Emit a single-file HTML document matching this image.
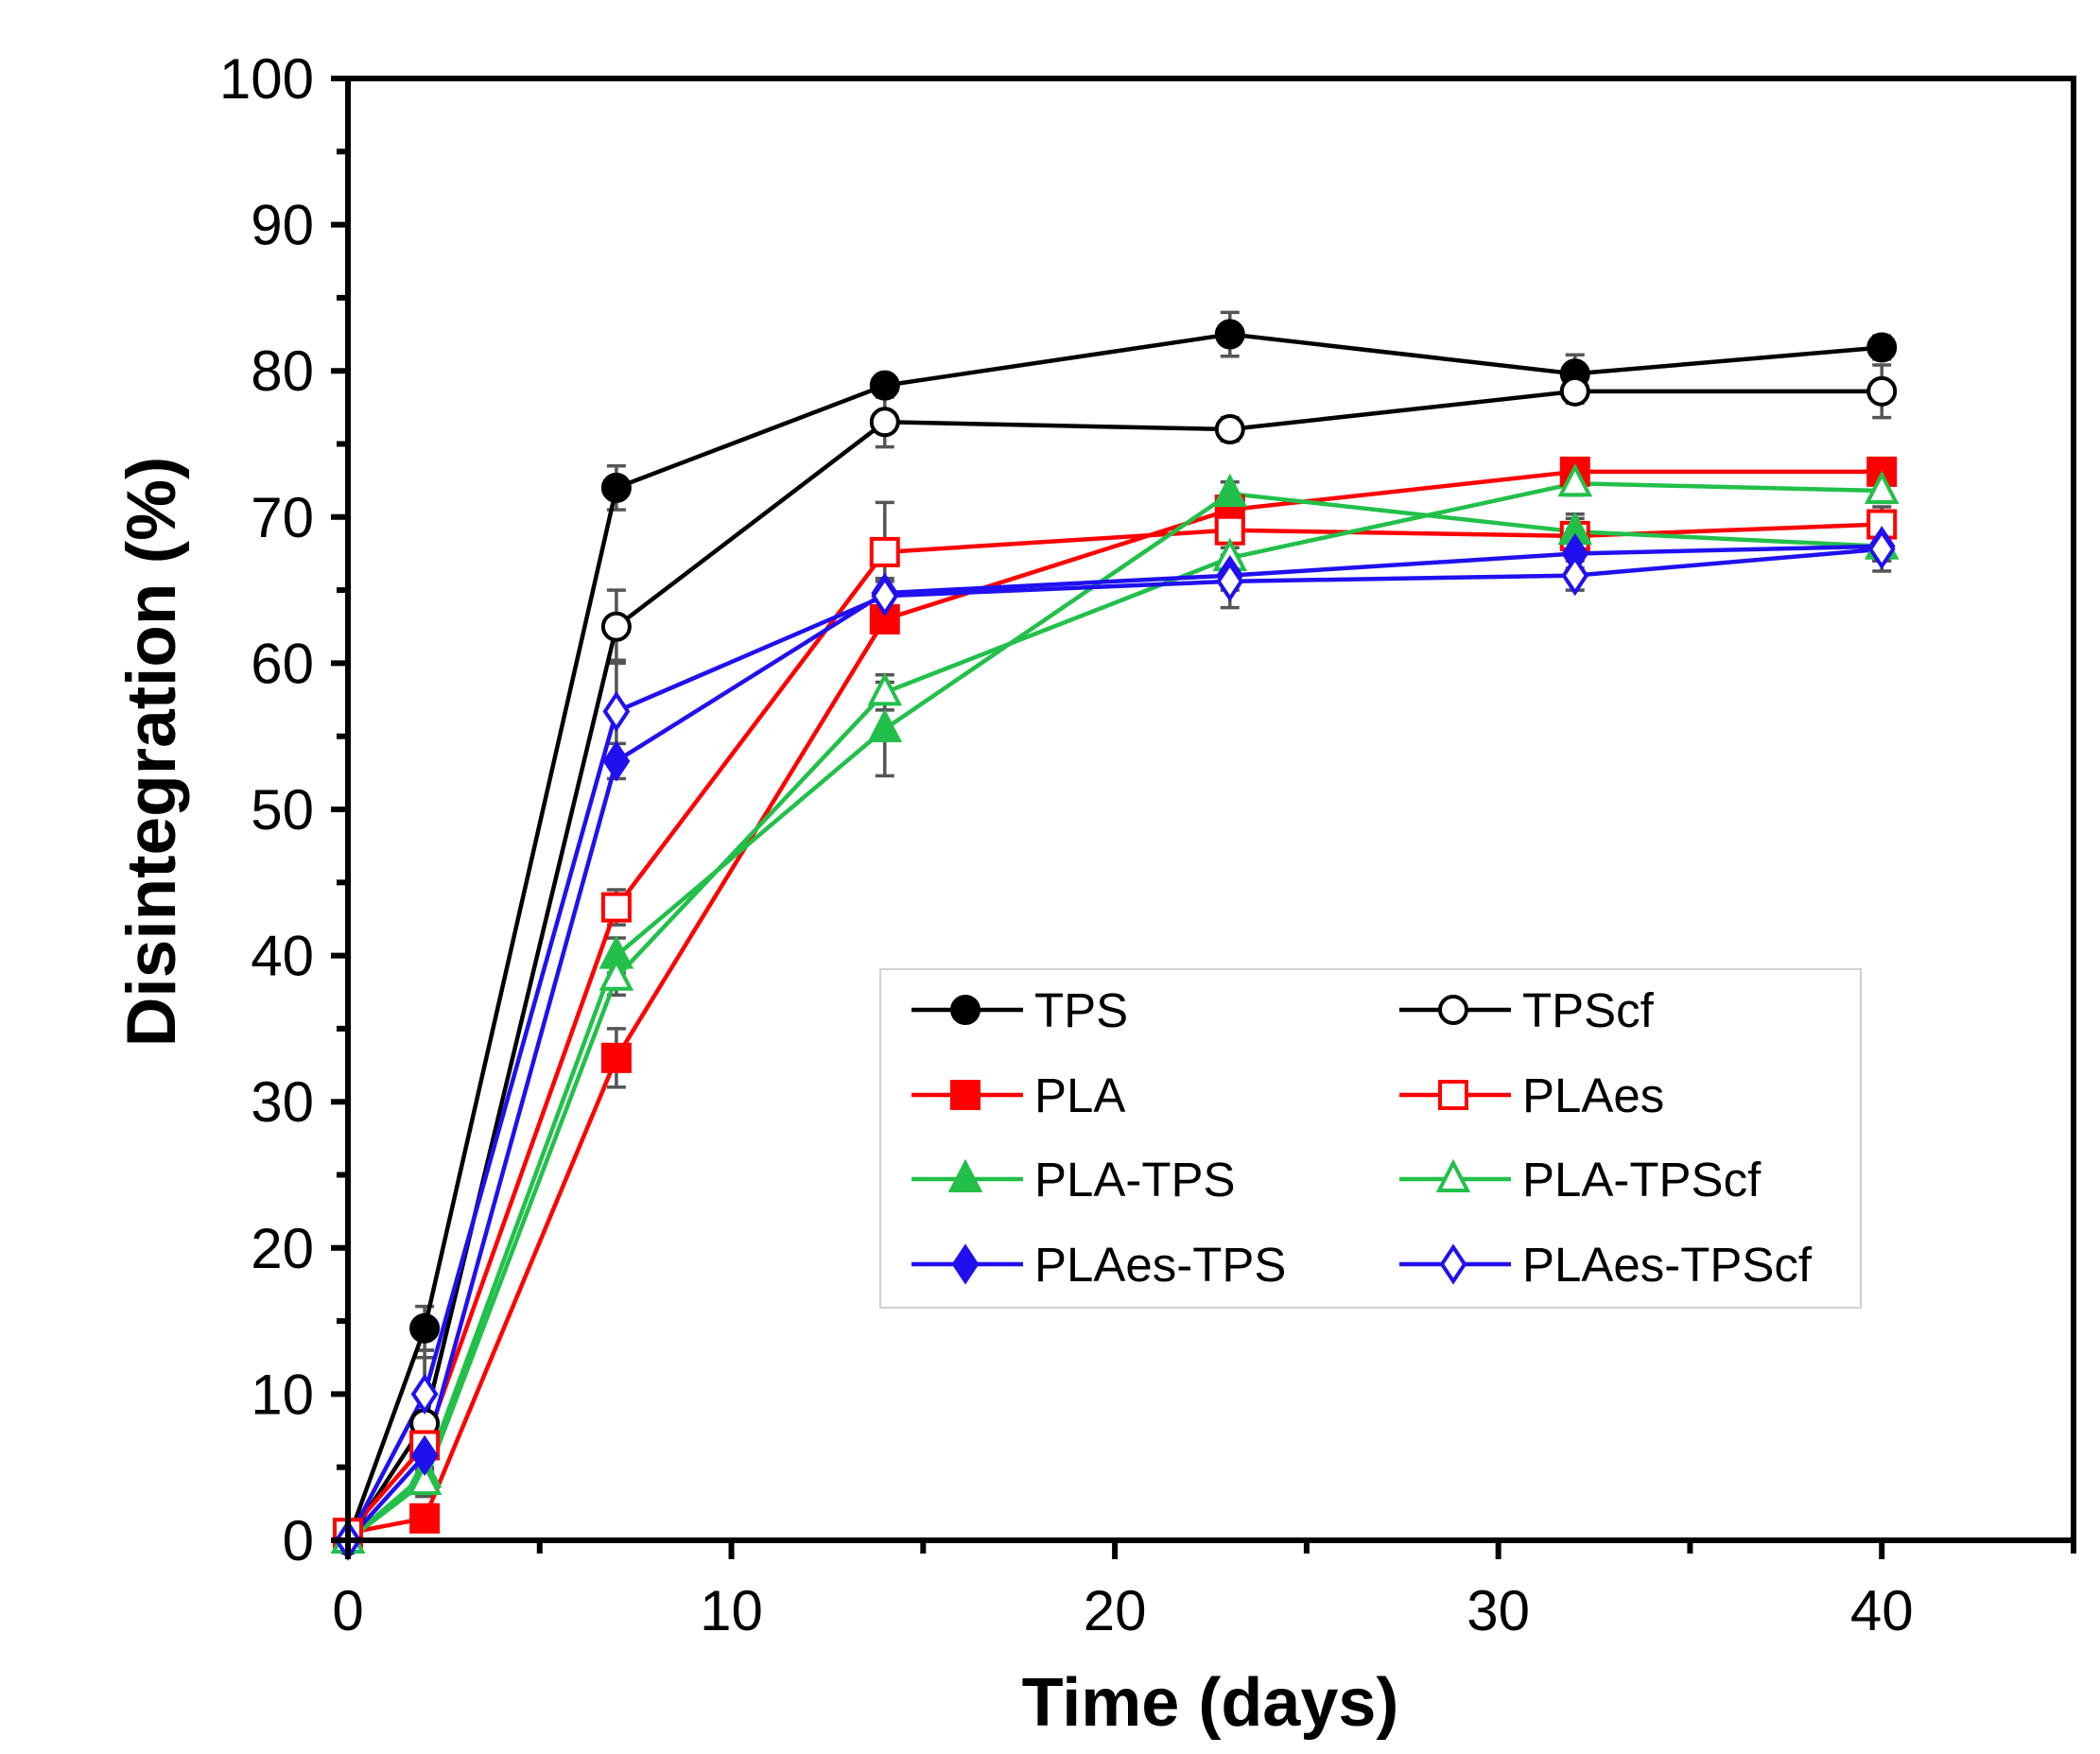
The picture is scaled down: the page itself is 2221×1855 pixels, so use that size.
<!DOCTYPE html>
<html><head><meta charset="utf-8"><style>
html,body{margin:0;padding:0;background:#fff;}
svg{display:block;font-family:"Liberation Sans",Arial,sans-serif;}
</style></head><body>
<svg id="chart" width="2221" height="1855" viewBox="0 0 2221 1855" xmlns="http://www.w3.org/2000/svg">
<g id="err-layer"></g>
<g id="series-layer"></g>
<g id="axis-layer"></g>
<g id="legend-layer"></g>
</svg>
<script>
const days = [0, 2, 7, 14, 23, 32, 40];
const tpsVals = [0, 14.5, 72, 79, 82.5, 79.8, 81.6];
const tpsErr = [0, 1.5, 1.5, 0.6, 1.5, 1.3, 0.8];
const tpscfVals = [0, 8, 62.5, 76.5, 76, 78.6, 78.6];
const tpscfErr = [0, 4.5, 2.5, 1.7, 0.8, 0.8, 1.8];
const plaVals = [0.5, 1.5, 33, 63, 70.5, 73.1, 73.1];
const plaErr = [0, 0.5, 2, 0.5, 0.8, 0.5, 0.5];
const plaesVals = [0.5, 6.5, 43.3, 67.6, 69.1, 68.7, 69.5];
const plaesErr = [0, 1, 1.2, 3.4, 1.2, 1.2, 1.2];
const platpsVals = [0, 4.5, 40, 55.5, 71.6, 69, 68];
const platpsErr = [0, 1, 1.2, 3.2, 0.8, 1.2, 1];
const platpscfVals = [0, 4, 38.5, 58, 67.2, 72.3, 71.8];
const platpscfErr = [0, 1, 1.2, 1.2, 1, 0.8, 0.8];
const plaestpsVals = [0, 5.8, 53.3, 64.8, 66, 67.5, 68];
const plaestpsErr = [0, 1, 1.2, 1, 1, 1, 1];
const plaestpscfVals = [0, 10, 56.7, 64.6, 65.6, 66, 67.8];
const plaestpscfErr = [0, 3, 3.5, 1, 1.8, 1, 1.5];
const xTicks = [0, 10, 20, 30, 40];
const yTicks = [0, 10, 20, 30, 40, 50, 60, 70, 80, 90, 100];

const NS = "http://www.w3.org/2000/svg";
const X0 = 368, X1 = 2193, Y0 = 1629, Y1 = 83;
const xs = d => X0 + (d / 45) * (X1 - X0);
const ys = v => Y0 - (v / 100) * (Y0 - Y1);
function mk(tag, attrs, parent) { const e = document.createElementNS(NS, tag); for (const k in attrs) e.setAttribute(k, attrs[k]); parent.appendChild(e); return e; }

const series = [
  {name:"TPS", vals:tpsVals, err:tpsErr, color:"#000", shape:"circle", fill:true},
  {name:"TPScf", vals:tpscfVals, err:tpscfErr, color:"#000", shape:"circle", fill:false},
  {name:"PLA", vals:plaVals, err:plaErr, color:"#ff0000", shape:"square", fill:true},
  {name:"PLAes", vals:plaesVals, err:plaesErr, color:"#ff0000", shape:"square", fill:false},
  {name:"PLA-TPS", vals:platpsVals, err:platpsErr, color:"#22c04a", shape:"triangle", fill:true},
  {name:"PLA-TPScf", vals:platpscfVals, err:platpscfErr, color:"#22c04a", shape:"triangle", fill:false},
  {name:"PLAes-TPS", vals:plaestpsVals, err:plaestpsErr, color:"#2010f0", shape:"diamond", fill:true},
  {name:"PLAes-TPScf", vals:plaestpscfVals, err:plaestpscfErr, color:"#2010f0", shape:"diamond", fill:false}
];

function marker(s, cx, cy, parent, nm) {
  const f = s.fill ? s.color : "#fff", st = {stroke:s.color, "stroke-width":4, fill:f};
  let el;
  if (s.shape === "circle") el = mk("circle", Object.assign({cx:cx, cy:cy, r:14}, st), parent);
  else if (s.shape === "square") el = mk("rect", Object.assign({x:cx-14, y:cy-14, width:28, height:28}, st), parent);
  else if (s.shape === "triangle") el = mk("polygon", Object.assign({points:`${cx},${cy-17} ${cx+15},${cy+12} ${cx-15},${cy+12}`}, st), parent);
  else el = mk("polygon", Object.assign({points:`${cx},${cy-18} ${cx+12},${cy} ${cx},${cy+18} ${cx-12},${cy}`}, st), parent);
  
  
}

const errL = document.getElementById("err-layer");
const serL = document.getElementById("series-layer");
series.forEach(s => {
  const slug = s.name.toLowerCase();
  s.err.forEach((e, i) => {
    if (!e) return;
    const x = xs(days[i]), ya = ys(s.vals[i] + e), yb = ys(s.vals[i] - e);
    const g = mk("g", {stroke:"#555", "stroke-width":3.5}, errL);
    
    
    mk("line", {x1:x, x2:x, y1:ya, y2:yb}, g);
    mk("line", {x1:x-10, x2:x+10, y1:ya, y2:ya}, g);
    mk("line", {x1:x-10, x2:x+10, y1:yb, y2:yb}, g);
  });
  const pl = mk("polyline", {points: days.map((d, i) => xs(d) + "," + ys(s.vals[i])).join(" "), fill:"none", stroke:s.color, "stroke-width":4.5}, serL);
  
  
});
series.forEach(s => {
  days.forEach((d, i) => marker(s, xs(d), ys(s.vals[i]), serL, 'point-' + s.name.toLowerCase() + '-' + d));
});

const ax = document.getElementById("axis-layer");
const frame = mk("rect", {x:X0, y:Y1, width:X1-X0, height:Y0-Y1, fill:"none", stroke:"#000", "stroke-width":6}, ax);


yTicks.forEach(v => {
  const y = ys(v);
  mk("line", {x1:X0-18, x2:X0, y1:y, y2:y, stroke:"#000", "stroke-width":6}, ax);
  if (v < 100) mk("line", {x1:X0-12, x2:X0, y1:ys(v+5), y2:ys(v+5), stroke:"#000", "stroke-width":6}, ax);
  const t = mk("text", {x:X0-36, y:y+21, "text-anchor":"end", "font-size":60, fill:"#000"}, ax);
  t.textContent = v;
  
  
});
xTicks.forEach(v => {
  const x = xs(v);
  mk("line", {x1:x, x2:x, y1:Y0, y2:Y0+20, stroke:"#000", "stroke-width":6}, ax);
  mk("line", {x1:xs(v+5), x2:xs(v+5), y1:Y0, y2:Y0+14, stroke:"#000", "stroke-width":6}, ax);
  const t = mk("text", {x:x, y:Y0+95, "text-anchor":"middle", "font-size":60, fill:"#000"}, ax);
  t.textContent = v;
  
  
});
const xt = mk("text", {x:1280, y:1825, "text-anchor":"middle", "font-size":72, "font-weight":"bold", fill:"#000"}, ax);
xt.textContent = "Time (days)";


const yt = mk("text", {x:0, y:0, transform:"translate(185,795) rotate(-90)", "text-anchor":"middle", "font-size":73, "font-weight":"bold", fill:"#000"}, ax);
yt.textContent = "Disintegration (%)";



const lg = document.getElementById("legend-layer");
const box = mk("rect", {x:931, y:1025, width:1037, height:358, fill:"#fff", stroke:"#d0d0d0", "stroke-width":2}, lg);


const rowsY = [1068, 1158, 1247, 1337];
series.forEach((s, i) => {
  const col = i % 2, row = Math.floor(i / 2);
  const lx = col ? 1480 : 964, y = rowsY[row];
  const g = mk("g", {}, lg);
  
  
  mk("line", {x1:lx, x2:lx+118, y1:y, y2:y, stroke:s.color, "stroke-width":4.5}, g);
  marker(s, lx+57, y, g, 'legend-marker-' + s.name.toLowerCase());
  const t = mk("text", {x:lx+130, y:y+18, "font-size":51, fill:"#000"}, g);
  t.textContent = s.name;
  
  
});
</script>
</body></html>
